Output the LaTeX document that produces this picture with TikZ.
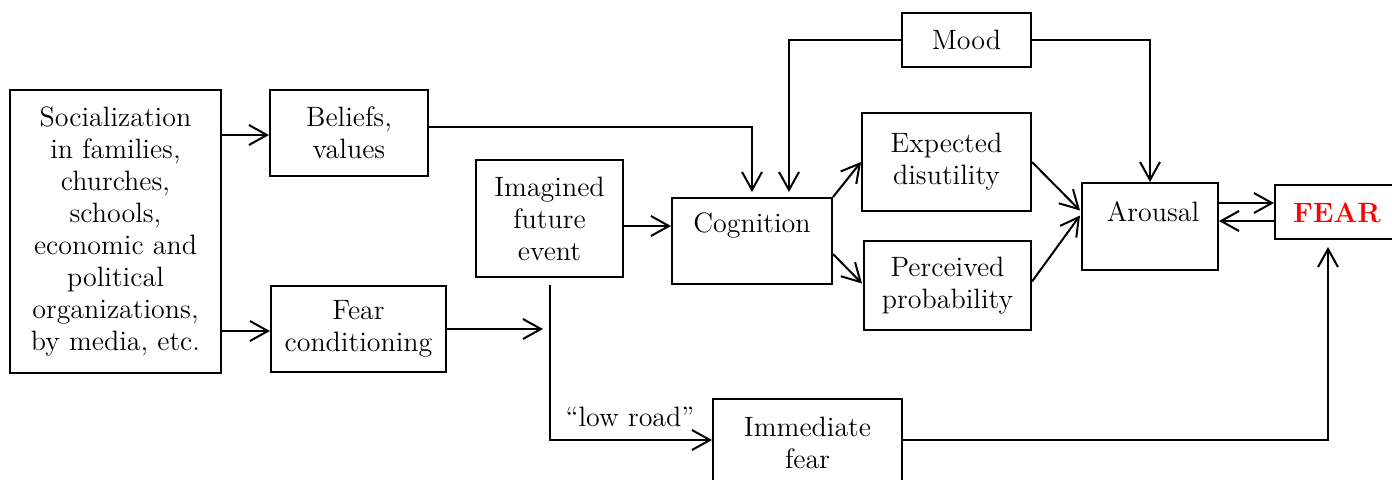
\documentclass[tikz,border=0pt]{standalone}
\usetikzlibrary{arrows.meta,calc}
\begin{document}
\begin{tikzpicture}[x=0.5pt,y=-0.5pt,
  every node/.style={font=\fontsize{14}{16}\selectfont},
  box/.style={draw, line width=1pt, inner sep=0pt, align=center},
  txt/.style={inner sep=0pt, align=center},
  arr/.style={line width=1pt, -{Straight Barb[length=9pt,width=10pt,line width=1pt]}},
  ln/.style={line width=1pt}]
\useasboundingbox (0,0) rectangle (1392,479);
% boxes
\node[box, minimum width=105.5pt, minimum height=141.5pt] (soc) at (115.5,231.5)
  {Socialization\\in families,\\churches,\\schools,\\economic and\\political\\organizations,\\by media, etc.};
\node[box, minimum width=79pt, minimum height=43pt] (bel) at (349,133) {Beliefs,\\values};
\node[box, minimum width=87.5pt, minimum height=43pt] (fc) at (358.5,329) {Fear\\conditioning};
\node[box, minimum width=73.5pt, minimum height=58.5pt] (img) at (549.5,218.5) {Imagined\\future\\event};
\node[box, minimum width=80pt, minimum height=43pt] (cog) at (752,241) {};
\node[txt] (cogt) at (752,226) {Cognition};
\node[box, minimum width=64.5pt, minimum height=27pt] (mood) at (966.5,40) {Mood};
\node[box, minimum width=84.5pt, minimum height=49pt] (exp) at (946.5,162) {Expected\\disutility};
\node[box, minimum width=83.5pt, minimum height=44.5pt] (perc) at (947.5,285.5) {Perceived\\probability};
\node[box, minimum width=68pt, minimum height=43.5pt] (aro) at (1150,226.5) {};
\node[txt] (arot) at (1153,212) {Arousal};
\node[box, minimum width=66pt, minimum height=27pt] (fear) at (1341,212) {};
\node[txt, text=red, font=\fontsize{14}{16}\selectfont\bfseries] (feart) at (1337,213) {FEAR};
\node[box, minimum width=94.5pt, minimum height=41pt] (imm) at (807.5,440) {};
\node[txt] (immt) at (807.5,443) {Immediate\\fear};
\node[txt] (lrt) at (630,417) {``low road''};
% coordinates
\coordinate (lr) at (550,285);
\coordinate (fx) at (1328,0);
\coordinate (mx) at (789,0);
% connectors
\draw[arr] (soc.east |- 0,135) -- (bel.west |- 0,135);
\draw[arr] (soc.east |- 0,331) -- (fc.west |- 0,331);
\draw[arr, shorten >=2.5pt] (bel.east |- 0,127) -| (cog.north);
\draw[arr, shorten >=2.5pt] (mood.west) -| (mx |- cog.north);
\draw[arr] (mood.east) -| (aro.north);
\draw[arr] (img.east |- 0,226) -- (cog.west |- 0,226);
\draw[arr] (cog.north east) -- (exp.west);
\draw[arr] ($(cog.east)+(0,13)$) -- ($(perc.west)+(-1,-2)$);
\draw[arr] (exp.east) -- ($(aro.west)+(-1,-16)$);
\draw[arr] ($(perc.east)+(0,-4)$) -- ($(aro.west)+(-1,-11)$);
\draw[arr] (aro.east |- 0,203) -- (fear.west |- 0,203);
\draw[arr] (fear.west |- 0,221) -- (aro.east |- 0,221);
\draw[arr, shorten >=3.5pt] (fc.east) -- (lr |- fc.east);
\draw[arr] (lr) |- (imm.west);
\draw[arr, shorten >=3.5pt] (imm.east) -| (fx |- fear.south);
\end{tikzpicture}
\end{document}
